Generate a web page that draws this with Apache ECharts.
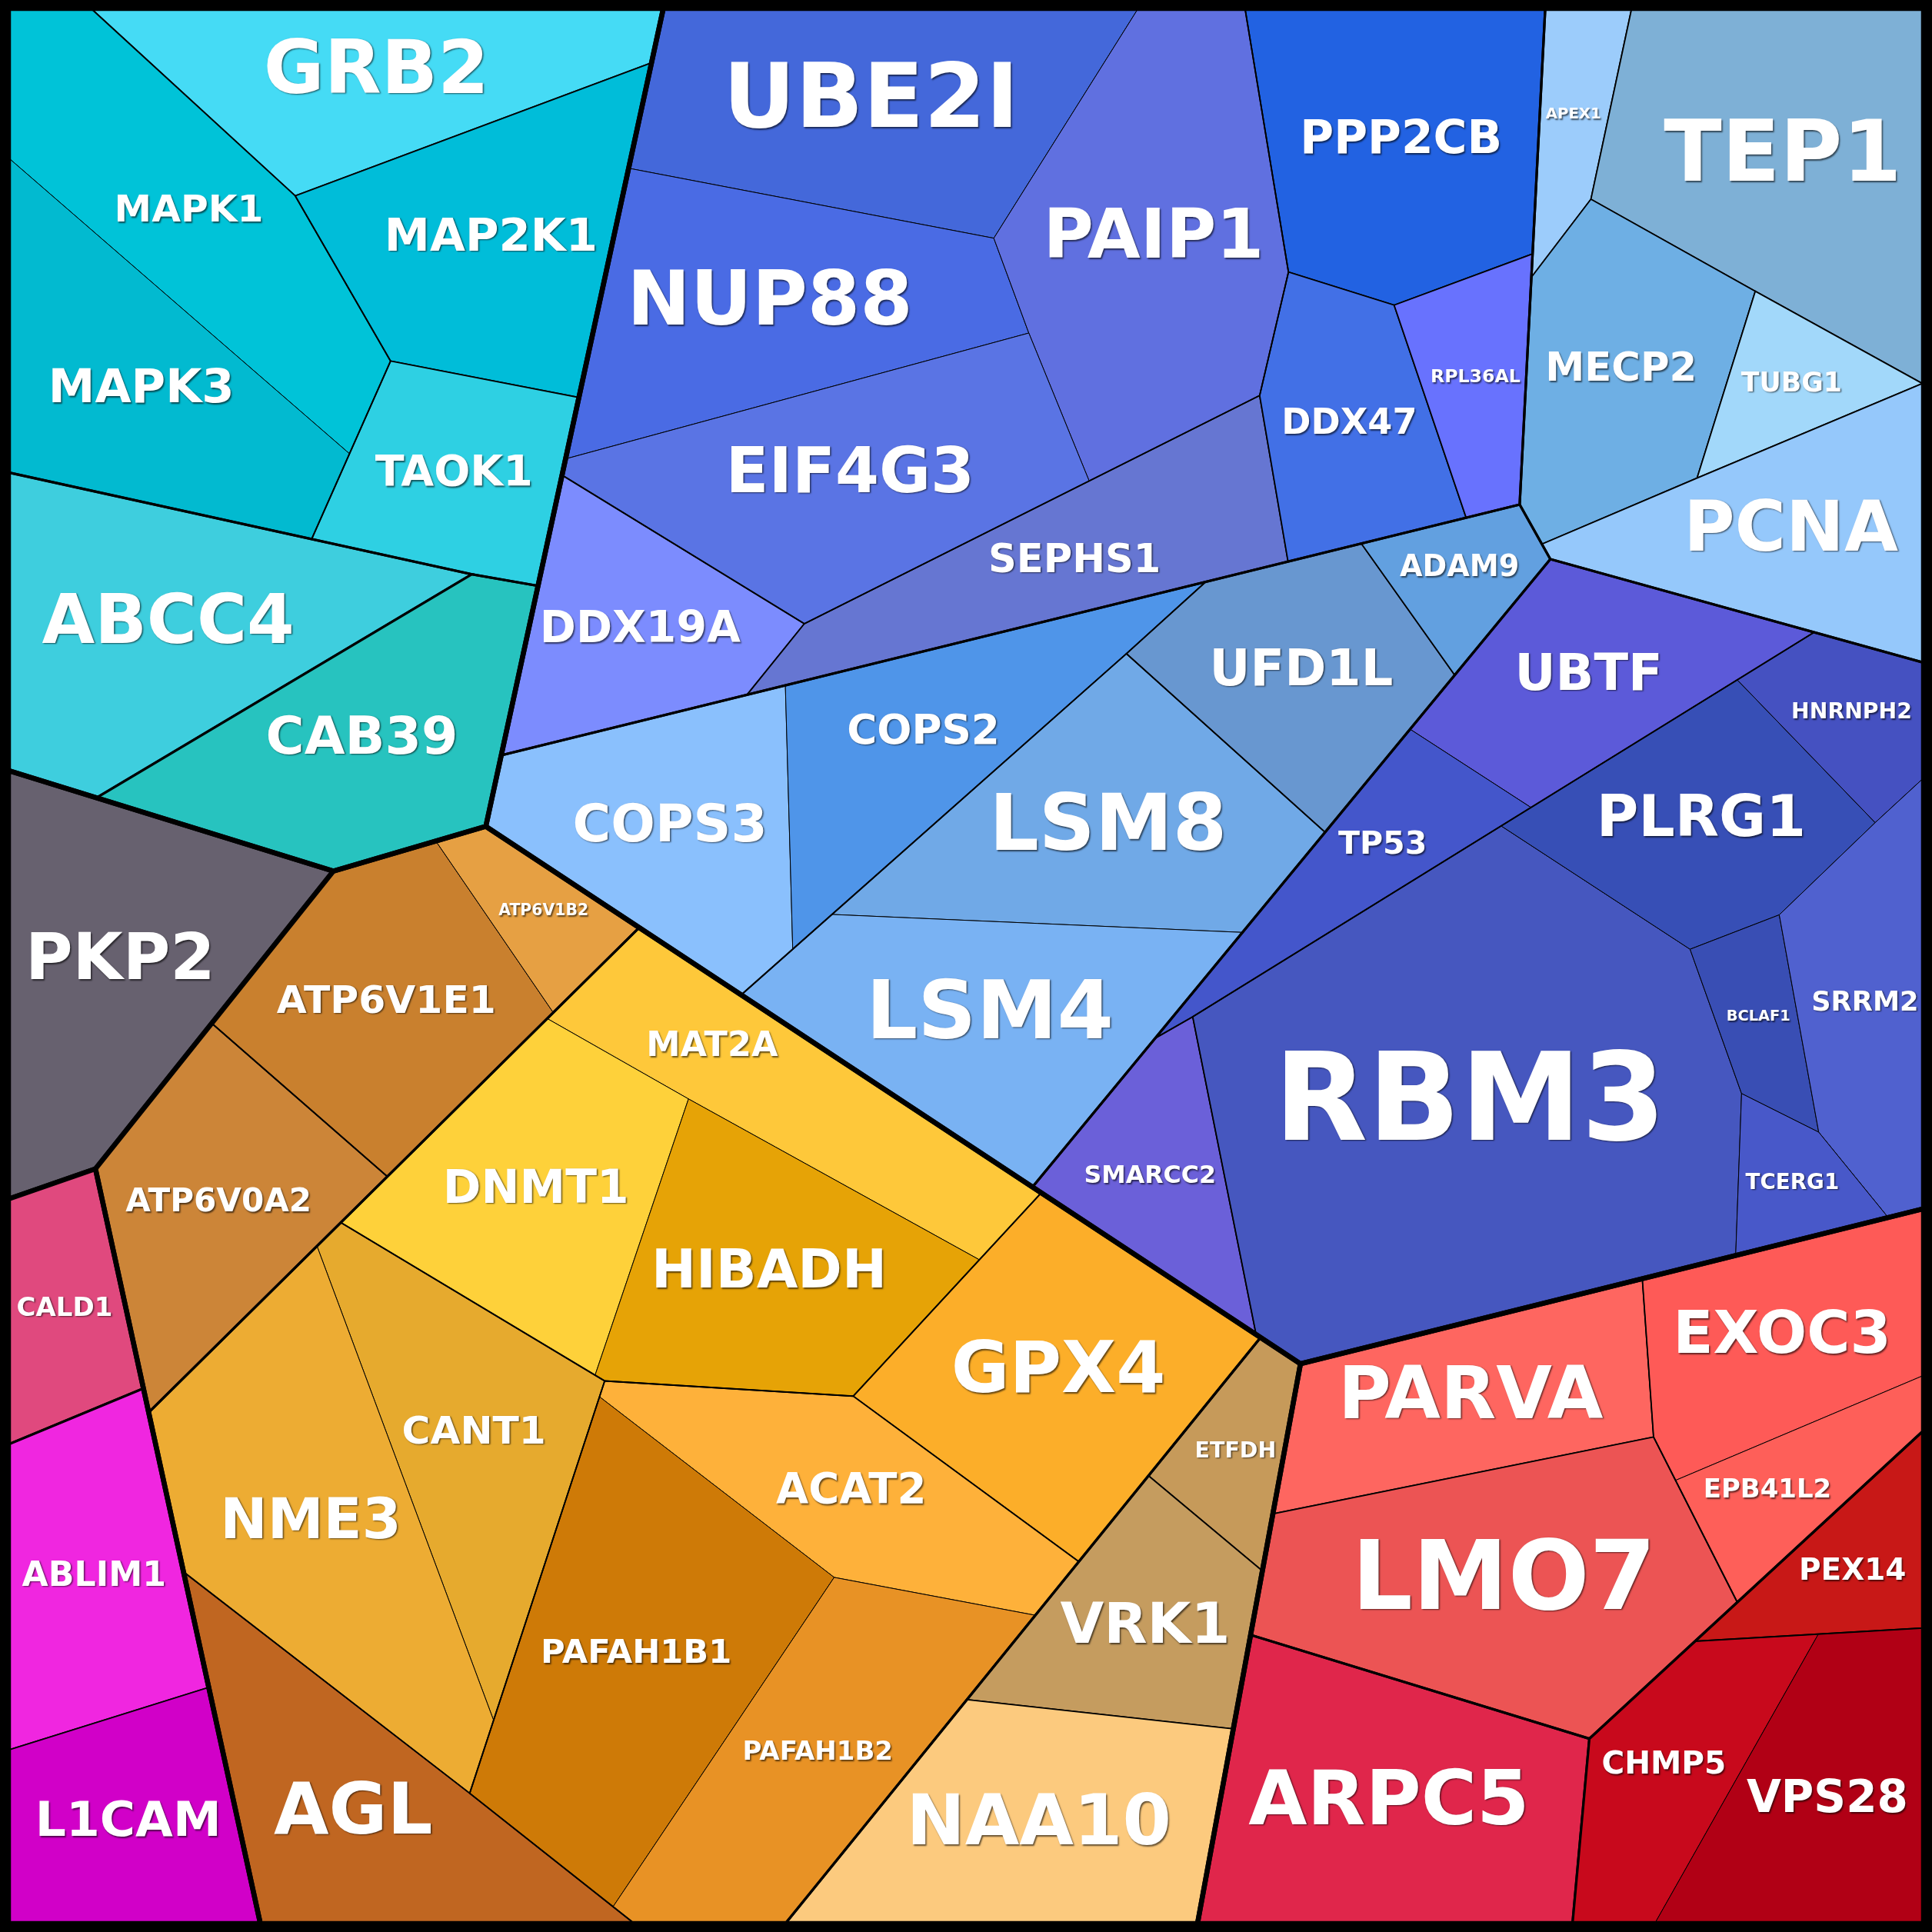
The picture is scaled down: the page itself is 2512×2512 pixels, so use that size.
<!DOCTYPE html>
<html><head><meta charset="utf-8">
<script src="https://cdn.jsdelivr.net/npm/echarts@6/dist/echarts.min.js"></script>
<style>html,body{margin:0;padding:0;background:#000}#chart{width:2512px;height:2512px}</style>
</head><body><div id="chart"></div>
<script>
// ================= DATA =================
const genes = ['GRB2','MAPK1','MAPK3','MAP2K1','TAOK1','ABCC4','CAB39','PKP2','CALD1','ABLIM1','L1CAM',
 'ATP6V1E1','ATP6V1B2','ATP6V0A2','MAT2A','DNMT1','HIBADH','GPX4','CANT1','NME3','ACAT2','PAFAH1B1','PAFAH1B2','AGL','ETFDH','VRK1','NAA10',
 'PARVA','EXOC3','EPB41L2','LMO7','ARPC5','PEX14','CHMP5','VPS28',
 'UBE2I','NUP88','PAIP1','EIF4G3','DDX19A','SEPHS1','PPP2CB','DDX47','RPL36AL',
 'APEX1','TEP1','MECP2','TUBG1','PCNA',
 'COPS3','COPS2','LSM8','LSM4','UFD1L','ADAM9',
 'UBTF','TP53','SMARCC2','RBM3','PLRG1','HNRNPH2','BCLAF1','SRRM2','TCERG1'];
const values = [410,478,445,450,267,551,446,518,176,345,309,
 413,105,374,346,426,441,500,402,589,349,619,441,434,117,281,476,
 361,339,154,620,566,148,248,357,
 557,521,617,530,298,370,488,262,152,
 103,593,356,120,366,
 392,368,482,489,340,109,
 323,190,212,1356,346,138,98,281,93];
const groupPath = ['C/X','C/X/MK','C/X/MK','C/X','C/X','C','C','','M','M/AL','M/AL',
 'O/Oa/E','O/Oa/E','O/Oa','O/Ob/D','O/Ob/D','O/Ob/D','O/Ob','O/Ob/N','O/Ob/N','O/Ob/P','O/Ob/P','O/Ob/P','O/Ob','O/Oc','O/Oc','O/Oc',
 'R/Ra','R/Ra/E','R/Ra/E','R/Ra','R','R/Rc','R/Rc/CV','R/Rc/CV',
 'B/Ba/U','B/Ba/U','B/Ba/U','B/Ba/U','B/Ba','B/Ba','B/Ba','B/Ba','B/Ba',
 'B/Bb','B/Bb','B/Bb','B/Bb','B/Bb',
 'B/Bc/CS','B/Bc/CS','B/Bc/LS','B/Bc/LS','B/Bc','B/Bc',
 'B/Bd/UT','B/Bd/UT','B/Bd','B/Bd/RP','B/Bd/RP','B/Bd/RP','B/Bd/RP','B/Bd/RP','B/Bd/RP'];

// ============ LAYOUT TARGETS (cell centres of mass, chart units) ============
const centreX = [305,153,116,398,368,136,293,97,51,76,104,
 315,438,176,639,437,622,858,376,260,690,516,663,292,1002,926,843,
 1194,1447,1458,1221,1128,1499,1356,1481,
 707,625,936,690,513,869,1137,1095,1198,
 1277,1447,1316,1454,1454,
 544,752,898,804,1056,1186,
 1289,1108,942,1193,1381,1501,1428,1516,1455];
const centreY = [59,171,314,193,384,507,600,781,1060,1280,1481,
 813,740,979,888,967,1033,1115,1166,1233,1211,1342,1422,1465,1182,1319,1481,
 1136,1087,1202,1286,1464,1275,1435,1459,
 84,247,194,385,510,449,114,344,306,
 92,128,300,311,432,
 670,598,671,825,546,468,
 549,696,953,899,666,580,825,814,960];

// ================= STYLE =================
const cellColor = {
 GRB2:'#45DBF5',MAPK1:'#00C3D8',MAPK3:'#02BAD0',MAP2K1:'#00BDD9',TAOK1:'#2ED0E3',ABCC4:'#3ECEDE',CAB39:'#27C3BF',
 PKP2:'#67616F',CALD1:'#E0497E',ABLIM1:'#F026E0',L1CAM:'#D100C8',
 ATP6V1E1:'#C9802E',ATP6V1B2:'#E6A043',ATP6V0A2:'#CC8538',MAT2A:'#FEC83A',DNMT1:'#FED13A',HIBADH:'#E6A306',GPX4:'#FCAE29',
 CANT1:'#E6AA2E',NME3:'#EDAC33',ACAT2:'#FEB13A',PAFAH1B1:'#CE7A07',PAFAH1B2:'#E89225',AGL:'#C06621',ETFDH:'#C69A5A',VRK1:'#C59C5F',NAA10:'#FCCA7E',
 PARVA:'#FE6660',EXOC3:'#FE5A57',EPB41L2:'#FE5F59',LMO7:'#EC5454',ARPC5:'#E0264B',PEX14:'#C81817',CHMP5:'#C8091C',VPS28:'#B10015',
 UBE2I:'#4468DA',NUP88:'#4A6BE4',PAIP1:'#6070E0',EIF4G3:'#5A74E4',DDX19A:'#7C8CFE',SEPHS1:'#6676D2',PPP2CB:'#2262E2',DDX47:'#4270E6',RPL36AL:'#6872FE',
 APEX1:'#9CCCFB',TEP1:'#7EB0D6',MECP2:'#6EAFE4',TUBG1:'#A2D8FA',PCNA:'#95C8FB',
 COPS3:'#8AC0FD',COPS2:'#4F95E9',LSM8:'#70A9E7',LSM4:'#79B2F3',UFD1L:'#6897D0',ADAM9:'#62A0E0',
 UBTF:'#5C5AD9',TP53:'#4456CB',SMARCC2:'#6B60D9',RBM3:'#4657BF',PLRG1:'#374FB6',HNRNPH2:'#4551C1',BCLAF1:'#394EB4',SRRM2:'#5061CF',TCERG1:'#4858C9'
};
// rendered label widths (chart units) -> font size
const labelWidth = {
 GRB2:183,MAPK1:121,MAP2K1:173,MAPK3:151,TAOK1:128,ABCC4:205,CAB39:156,PKP2:154,CALD1:78,ABLIM1:117,L1CAM:151,
 ATP6V1E1:178,ATP6V1B2:73,ATP6V0A2:151,MAT2A:107,DNMT1:151,HIBADH:191,GPX4:174,CANT1:117,NME3:147,ACAT2:122,PAFAH1B1:155,PAFAH1B2:122,AGL:129,ETFDH:66,VRK1:138,NAA10:215,
 PARVA:215,EXOC3:177,EPB41L2:104,LMO7:247,ARPC5:228,PEX14:87,CHMP5:101,VPS28:131,
 UBE2I:240,NUP88:232,PAIP1:179,EIF4G3:202,DDX19A:163,SEPHS1:140,PPP2CB:164,DDX47:110,RPL36AL:73,
 APEX1:45,TEP1:193,MECP2:123,TUBG1:82,PCNA:174,
 COPS3:158,COPS2:124,LSM8:193,LSM4:201,UFD1L:149,ADAM9:97,
 UBTF:120,TP53:72,SMARCC2:107,RBM3:318,PLRG1:170,HNRNPH2:98,BCLAF1:52,SRRM2:87,TCERG1:76
};
const LINE_W = {1:6.5, 2:3.2, 3:1.8, 4:1.0, 5:0.6};
const DOM_MIN = 7, DOM_MAX = 1561;
const GRID = {left:11, top:11, width:2490, height:2490};
const PX = GRID.width/(DOM_MAX-DOM_MIN);
const BOX_H = 1.16, PAD = 4;
const FONT_FAMILY = 'DejaVu Sans';

// ================= GEOMETRY =================
function clipPoly(poly, ax, ay, b, lab) {
  const out = [], n = poly.length;
  for (let k = 0; k < n; k++) {
    const P = poly[k], Q = poly[(k+1)%n];
    const dP = ax*P.x + ay*P.y - b, dQ = ax*Q.x + ay*Q.y - b;
    const inP = dP <= 0, inQ = dQ <= 0;
    if (inP) out.push(P);
    if (inP !== inQ) {
      const t = dP/(dP-dQ);
      out.push({x:P.x+t*(Q.x-P.x), y:P.y+t*(Q.y-P.y), l: inP ? lab : P.l});
    }
  }
  return out;
}
function signedArea(p){let s=0;for(let k=0;k<p.length;k++){const a=p[k],b=p[(k+1)%p.length];s+=a.x*b.y-b.x*a.y;}return s/2;}
function polyArea(p){return p.length<3?0:Math.abs(signedArea(p));}
function polyCentroid(p){let s=0,cx=0,cy=0;for(let k=0;k<p.length;k++){const a=p[k],b=p[(k+1)%p.length];const c=a.x*b.y-b.x*a.y;s+=c;cx+=(a.x+b.x)*c;cy+=(a.y+b.y)*c;}return {x:cx/(3*s),y:cy/(3*s)};}
function solveLinear(A, b) {
  const n = b.length, M = A.map((r,i) => r.concat([b[i]]));
  for (let c = 0; c < n; c++) {
    let p = c;
    for (let r = c+1; r < n; r++) if (Math.abs(M[r][c]) > Math.abs(M[p][c])) p = r;
    if (Math.abs(M[p][c]) < 1e-14) return null;
    [M[c], M[p]] = [M[p], M[c]];
    for (let r = 0; r < n; r++) {
      if (r === c) continue;
      const f = M[r][c]/M[c][c];
      if (f) for (let k = c; k <= n; k++) M[r][k] -= f*M[c][k];
    }
  }
  return M.map((r,i) => r[n]/r[i]);
}

function powerCells(parent, S, W) {
  const n = S.length, cells = [];
  for (let i = 0; i < n; i++) {
    let poly = parent.map(p => ({x:p.x, y:p.y, l:-1}));
    for (let j = 0; j < n && poly.length >= 3; j++) {
      if (j === i) continue;
      const ax = 2*(S[j].x-S[i].x), ay = 2*(S[j].y-S[i].y);
      const b = (S[j].x*S[j].x+S[j].y*S[j].y) - (S[i].x*S[i].x+S[i].y*S[i].y) - W[j] + W[i];
      poly = clipPoly(poly, ax, ay, b, j);
    }
    cells.push(poly.length >= 3 ? poly : []);
  }
  return cells;
}
function fitWeights(parent, S, W, tgt, maxIt, tol) {
  const n = S.length;
  let cells;
  for (let it = 0; it < maxIt; it++) {
    cells = powerCells(parent, S, W);
    let maxErr = 0; const dW = new Array(n).fill(0);
    for (let i = 0; i < n; i++) {
      const c = cells[i], A = polyArea(c), err = tgt[i]-A;
      maxErr = Math.max(maxErr, Math.abs(err)/tgt[i]);
      if (A <= 1e-9) { dW[i] = tgt[i]*0.5; continue; }
      let D = 0;
      for (let k = 0; k < c.length; k++) {
        const P = c[k], Q = c[(k+1)%c.length];
        if (P.l >= 0) D += Math.hypot(Q.x-P.x,Q.y-P.y)/(2*Math.hypot(S[P.l].x-S[i].x,S[P.l].y-S[i].y));
      }
      dW[i] = D > 1e-9 ? 0.6*err/D : 0.5*err;
    }
    if (maxErr < tol) break;
    for (let i = 0; i < n; i++) W[i] += dW[i];
  }
  return cells;
}
// power diagram: exact target areas, centres of mass as close as possible (least squares)
function solveLevel(parent, Ct, T) {
  const n = Ct.length;
  if (n === 1) return [parent.map(p => ({x:p.x, y:p.y}))];
  const PA = polyArea(parent), PC = polyCentroid(parent);
  const ts = T.reduce((a,b)=>a+b,0);
  const tgt = T.map(t => t/ts*PA);
  let mx = 0, my = 0;
  Ct.forEach((c,i) => { mx += c.x*tgt[i]/PA; my += c.y*tgt[i]/PA; });
  const goal = Ct.map(c => ({x:c.x + PC.x - mx, y:c.y + PC.y - my}));
  const wt = tgt.map(t => Math.sqrt(t/PA));
  function evaluate(S, W0, tol) {
    const W = W0.slice();
    const cells = fitWeights(parent, S, W, tgt, 800, tol);
    const r = new Array(2*n); let E = 0;
    for (let i = 0; i < n; i++) {
      let dx = 300, dy = 300;
      if (cells[i].length) { const c = polyCentroid(cells[i]); dx = c.x-goal[i].x; dy = c.y-goal[i].y; }
      r[2*i] = wt[i]*dx; r[2*i+1] = wt[i]*dy; E += r[2*i]*r[2*i] + r[2*i+1]*r[2*i+1];
    }
    return {W, cells, r, E};
  }
  let S = goal.map(c => ({x:c.x, y:c.y}));
  let cur = evaluate(S, new Array(n).fill(0), 1e-5);
  let best = {S: S.map(p => ({x:p.x, y:p.y})), ev: cur};
  for (let it = 0; it < 40; it++) {
    const S2 = S.map((p,i) => {
      const c = cur.cells[i].length ? polyCentroid(cur.cells[i]) : goal[i];
      return {x: p.x + 0.8*(goal[i].x - c.x), y: p.y + 0.8*(goal[i].y - c.y)};
    });
    cur = evaluate(S2, cur.W, 1e-5); S = S2;
    if (cur.E < best.ev.E) best = {S: S.map(p => ({x:p.x, y:p.y})), ev: cur};
  }
  S = best.S.map(p => ({x:p.x, y:p.y}));
  cur = evaluate(S, best.ev.W, 1e-8);
  const m = 2*n, h = 0.25;
  let lambda = 1e-2;
  for (let it = 0; it < 30; it++) {
    if (cur.E < 1e-6) break;
    const J = []; for (let r = 0; r < m; r++) J.push(new Array(m).fill(0));
    for (let k = 0; k < m; k++) {
      const S2 = S.map(p => ({x:p.x, y:p.y}));
      if (k % 2 === 0) S2[k>>1].x += h; else S2[k>>1].y += h;
      const ev = evaluate(S2, cur.W, 1e-8);
      for (let r = 0; r < m; r++) J[r][k] = (ev.r[r]-cur.r[r])/h;
    }
    const JTJ = [], JTr = new Array(m).fill(0);
    for (let a = 0; a < m; a++) {
      JTJ.push(new Array(m).fill(0));
      for (let b = 0; b < m; b++) { let s = 0; for (let r = 0; r < m; r++) s += J[r][a]*J[r][b]; JTJ[a][b] = s; }
      let s = 0; for (let r = 0; r < m; r++) s += J[r][a]*cur.r[r]; JTr[a] = s;
    }
    let improved = false;
    for (let tries = 0; tries < 10; tries++) {
      const A = JTJ.map((row,a) => row.map((v,b) => v + (a===b ? lambda*(JTJ[a][a]+1e-4) : 0)));
      const delta = solveLinear(A, JTr.map(v => -v));
      if (!delta) { lambda *= 4; continue; }
      const S2 = S.map((p,i) => ({x:p.x+delta[2*i], y:p.y+delta[2*i+1]}));
      const ev = evaluate(S2, cur.W, 1e-8);
      if (ev.E < cur.E) { S = S2; cur = ev; lambda = Math.max(lambda/3, 1e-7); improved = true; break; }
      lambda *= 4;
    }
    if (!improved) break;
  }
  return cur.cells;
}

// ================= HIERARCHY =================
const root = {key:'root', children:[], depth:0};
(function(){
  const map = {'': root};
  genes.forEach((g,i) => {
    const parts = groupPath[i] ? groupPath[i].split('/') : [];
    let node = root, key = '';
    parts.forEach(p => {
      key = key ? key+'/'+p : p;
      if (!map[key]) { const nn = {key, children:[], depth:node.depth+1}; map[key] = nn; node.children.push(nn); }
      node = map[key];
    });
    node.children.push({leaf:i, key:g, children:[], depth:node.depth+1});
  });
})();
function aggregate(node) {
  if (node.leaf !== undefined) { node.value = values[node.leaf]; node.cx = centreX[node.leaf]; node.cy = centreY[node.leaf]; return; }
  let v=0,x=0,y=0;
  node.children.forEach(c => { aggregate(c); v += c.value; x += c.value*c.cx; y += c.value*c.cy; });
  node.value = v; node.cx = x/v; node.cy = y/v;
}
aggregate(root);
const leaves = [], groups = [];
function layout(node, poly) {
  node.poly = poly;
  if (node.leaf !== undefined) { leaves.push(node); return; }
  if (node.depth > 0) groups.push(node);
  const C = node.children.map(c => ({x:c.cx, y:c.cy}));
  const T = node.children.map(c => c.value);
  const cells = solveLevel(poly, C, T);
  node.children.forEach((c,k) => layout(c, cells[k]));
}
layout(root, [{x:DOM_MIN,y:DOM_MIN},{x:DOM_MAX,y:DOM_MIN},{x:DOM_MAX,y:DOM_MAX},{x:DOM_MIN,y:DOM_MAX}]);
groups.sort((a,b) => b.depth - a.depth);

// ================= LABEL PLACEMENT =================
const mctx = document.createElement('canvas').getContext('2d');
mctx.font = 'bold 100px "' + FONT_FAMILY + '"';
function nearestInPoly(R, g) {
  const o = signedArea(R) > 0 ? 1 : -1;
  let inside = true;
  for (let k = 0; k < R.length; k++) {
    const p = R[k], q = R[(k+1)%R.length];
    if (o*((q.x-p.x)*(g.y-p.y)-(q.y-p.y)*(g.x-p.x)) < 0) { inside = false; break; }
  }
  if (inside) return g;
  let best = null, bd = Infinity;
  for (let k = 0; k < R.length; k++) {
    const p = R[k], q = R[(k+1)%R.length];
    const ex = q.x-p.x, ey = q.y-p.y, L2 = ex*ex+ey*ey;
    let t = L2 > 0 ? ((g.x-p.x)*ex+(g.y-p.y)*ey)/L2 : 0;
    t = Math.max(0, Math.min(1, t));
    const x = p.x+t*ex, y = p.y+t*ey, d = (x-g.x)**2+(y-g.y)**2;
    if (d < bd) { bd = d; best = {x,y}; }
  }
  return best;
}
function placeLabel(poly, w, h) {
  const g = polyCentroid(poly);
  const o = signedArea(poly) > 0 ? 1 : -1;
  const edges = [];
  for (let k = 0; k < poly.length; k++) {
    const p = poly[k], q = poly[(k+1)%poly.length];
    const ex = q.x-p.x, ey = q.y-p.y, L = Math.hypot(ex,ey);
    if (L < 1e-9) continue;
    edges.push({px:p.x, py:p.y, nx:-o*ey/L, ny:o*ex/L});
  }
  function region(hw, hh) {
    let R = poly.map(p => ({x:p.x, y:p.y, l:-1}));
    for (const e of edges) {
      const rhs = e.nx*e.px + e.ny*e.py + hw*Math.abs(e.nx) + hh*Math.abs(e.ny);
      R = clipPoly(R, -e.nx, -e.ny, -rhs, 0);
      if (R.length < 3) return null;
    }
    return R;
  }
  for (const pad of [PAD, 2, 0]) {
    const R = region(w/2+pad, h/2+pad);
    if (R) return nearestInPoly(R, g);
  }
  let lo = 0, hi = 1;
  for (let it = 0; it < 40; it++) { const m = (lo+hi)/2; if (region(m*w/2, m*h/2)) lo = m; else hi = m; }
  const R = region(lo*0.999*w/2, lo*0.999*h/2);
  return R ? polyCentroid(R) : g;
}
leaves.forEach(n => {
  const name = genes[n.leaf];
  const ratio = mctx.measureText(name).width/100;
  const F = labelWidth[name]/ratio;
  const pt = placeLabel(n.poly, labelWidth[name], BOX_H*F);
  n.label = {F, x:pt.x, y:pt.y};
});

// ================= CHART =================
const chart = echarts.init(document.getElementById('chart'), null, {renderer:'canvas'});
const axisCommon = {type:'value', min:DOM_MIN, max:DOM_MAX, show:false};
chart.setOption({
  animation:false,
  backgroundColor:'#000',
  grid: GRID,
  xAxis: axisCommon,
  yAxis: Object.assign({inverse:true}, axisCommon),
  series: [
    {type:'custom', name:'cells', silent:true, z:1,
     data: leaves.map((l,i) => [i]),
     renderItem: (params, api) => {
       const n = leaves[api.value(0)];
       return {type:'polygon', shape:{points:n.poly.map(p => api.coord([p.x,p.y]))},
               style:{fill:cellColor[genes[n.leaf]], stroke:'#000', lineWidth:LINE_W[n.depth]||0.6}};
     }},
    {type:'custom', name:'groups', silent:true, z:2,
     data: groups.map((g,i) => [i]),
     renderItem: (params, api) => {
       const n = groups[api.value(0)];
       return {type:'polygon', shape:{points:n.poly.map(p => api.coord([p.x,p.y]))},
               style:{fill:'none', stroke:'#000', lineWidth:LINE_W[n.depth]||0.6}};
     }},
    {type:'custom', name:'labels', silent:true, z:3,
     data: leaves.map((l,i) => [i]),
     renderItem: (params, api) => {
       const n = leaves[api.value(0)];
       const pt = api.coord([n.label.x, n.label.y]);
       return {type:'text', x:pt[0], y:pt[1],
               style:{text:genes[n.leaf], fill:'#fff', fontSize:n.label.F*PX, fontWeight:'bold', fontFamily:FONT_FAMILY,
                      align:'center', verticalAlign:'middle', textAlign:'center', textVerticalAlign:'middle',
                      textShadowColor:'rgba(0,0,0,0.6)', textShadowBlur:2, textShadowOffsetX:1.5, textShadowOffsetY:1.5}};
     }}
  ],
  graphic: [{type:'rect', shape:{x:0, y:0, width:2512, height:2512}, style:{fill:'none', stroke:'#000', lineWidth:18}, z:100, silent:true}]
});
</script>
</body></html>
